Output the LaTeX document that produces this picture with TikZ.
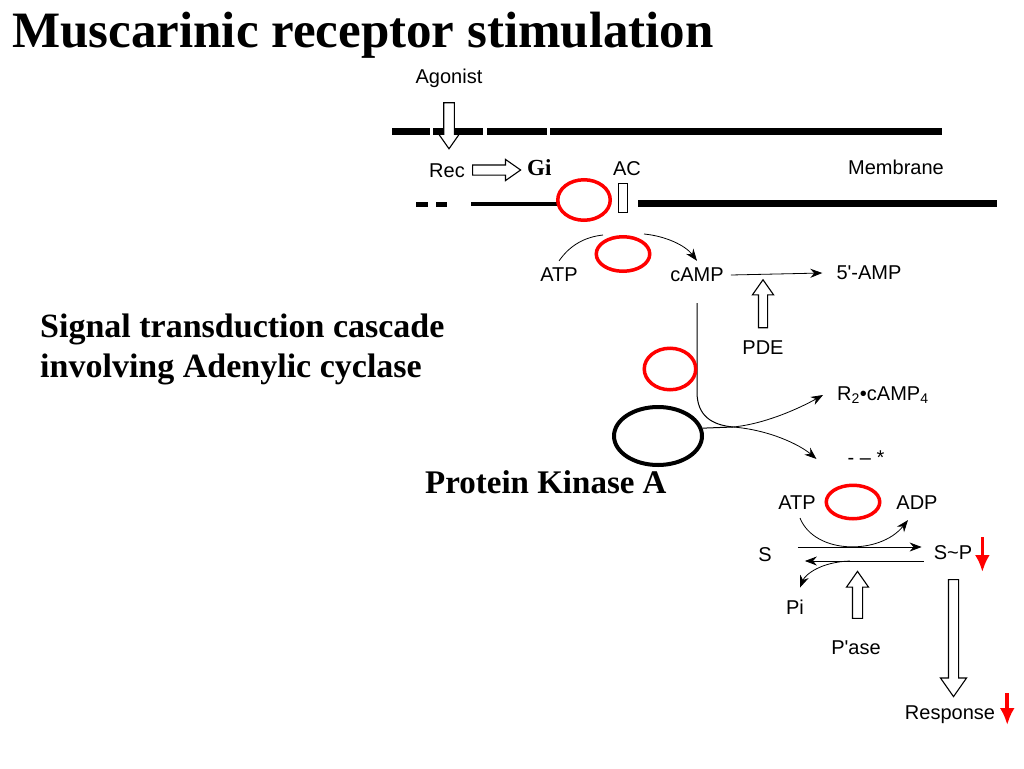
\documentclass[tikz,border=0pt]{standalone}
\usepackage{fontspec}
\setmainfont{Liberation Serif}
\setsansfont{Liberation Sans}
\usetikzlibrary{shapes.geometric}
\usetikzlibrary{shapes.arrows}
\usetikzlibrary{arrows.meta}

\begin{document}
\begin{tikzpicture}[
    x=1pt, y=-1pt,
    >={Stealth[length=12pt,width=9pt]},
    tag/.style={
        font=\sffamily\fontsize{20}{20}\selectfont,
        inner sep=1pt
    },
    heading/.style={
        font=\bfseries\fontsize{34}{40}\selectfont,
        anchor=base west, inner sep=0pt
    },
    hollow/.style={
        single arrow, draw=black, fill=white, line width=1.1pt,
        inner xsep=0pt, single arrow tip angle=70,
        single arrow head indent=0pt
    },
    ring/.style={
        ellipse, draw=red, line width=3.5pt, inner sep=0pt
    },
    fall/.style={
        -{Latex[length=17pt,width=15pt]}, draw=red, line width=3.5pt
    }
]
\useasboundingbox (0,0) rectangle (1024,768);

% titles
\node[heading, font=\bfseries\fontsize{51}{51}\selectfont] (title) at (12,48) {Muscarinic receptor stimulation};
\node[heading] (sig1) at (40,337) {Signal transduction cascade};
\node[heading] (sig2) at (40,377) {involving Adenylic cyclase};
\node[heading, font=\bfseries\fontsize{33}{40}\selectfont] (pkatext) at (425,493) {Protein Kinase A};

% membrane
\draw[line width=7pt, dash pattern=on 38pt off 3pt on 50pt off 4pt on 60pt off 3pt] (392,131) -- (588,131);
\draw[line width=7pt] (588,131) -- (942,131);
\draw[line width=5pt] (416,204) -- (428,204);
\draw[line width=5pt] (436,204) -- (447,204);
\draw[line width=4pt] (471,204) -- (557,204);
\draw[line width=7pt] (638,203) -- (997,203);
\node[draw, line width=1pt, fill=white, minimum width=9pt, minimum height=29pt, inner sep=0pt] (acbar) at (622.5,197.5) {};

\node[tag] (agonist) at (449,78) {Agonist};
\node[tag] (rec) at (447,171) {Rec};
\node[heading, font=\bfseries\fontsize{23}{23}\selectfont] (gi) at (527,175) {Gi};
\node[tag] (ac) at (627,169) {AC};
\node[tag] (membrane) at (896,167) {Membrane};

\node[hollow, rotate=-90, inner ysep=4.75pt, single arrow head extend=4.75pt, minimum height=46pt] (agarrow) at (449,122) {};
\node[hollow, inner ysep=4.5pt, single arrow head extend=5.5pt, minimum height=48pt] (recarrow) at (493,170) {};

% cAMP
\node[tag] (atp) at (559,275) {ATP};
\node[tag] (camp) at (697,275) {cAMP};
\node[tag] (amp) at (869,273) {5\textquotesingle-AMP};
\node[tag] (pde) at (763,348) {PDE};
\node[hollow, rotate=90, inner ysep=4pt, single arrow head extend=6pt, minimum height=48pt] (pdearrow) at (763,307) {};

\coordinate (gapl) at (603,235);
\coordinate (gapr) at (644,234);
\draw[line width=0.8pt] ([yshift=6pt]atp.north) .. controls (570,245) and (585,237) .. (gapl);
\draw[->, line width=0.8pt] (gapr) .. controls (665,236) and (685,245) .. ([yshift=6pt]camp.north);
\draw[->, line width=0.8pt] ([xshift=6pt]camp.east) -- ([xshift=-13pt]amp.west);

% protein kinase
\node[tag, anchor=west] (rcamp) at (836,395) {R\textsubscript{2}\textbullet cAMP\textsubscript{4}};
\node[tag] (cstar) at (866,458) {- -- *};
\node[ellipse, draw, line width=4pt, minimum width=88pt, minimum height=58pt, inner sep=0pt] (pka) at (658,436) {};

\coordinate (split) at (733,427);
\draw[line width=1pt] ([yshift=-20pt]camp.south) -- (697,392) .. controls (697,416) and (712,425) .. (split);
\draw[line width=1pt] (pka.10) -- (split);
\draw[->, line width=0.8pt] (split) .. controls (765,424) and (800,408) .. ([xshift=-13pt]rcamp.west);
\draw[->, line width=0.8pt] (split) .. controls (770,430) and (800,445) .. ([xshift=-30pt,yshift=-1pt]cstar.west);

% phosphorylation
\node[tag] (atp2) at (797,503) {ATP};
\node[tag] (adp) at (917,503) {ADP};
\node[tag] (s) at (765,555) {S};
\node[tag] (sp) at (953,553) {S\textasciitilde P};
\node[tag] (pi) at (795,607) {Pi};
\node[tag] (pase) at (856,648) {P\textquotesingle ase};
\node[tag] (response) at (950,715) {Response};

\draw[->, line width=0.8pt] ([xshift=3pt,yshift=-7pt]atp2.south) .. controls (815,555) and (880,555) .. ([xshift=-9pt,yshift=-9pt]adp.south);
\draw[->, line width=0.8pt] ([xshift=25pt,yshift=8pt]s.east) -- ([xshift=-11pt,yshift=6pt]sp.west);
\draw[->, line width=0.8pt] ([xshift=-9pt,yshift=-8pt]sp.west) -- ([xshift=32pt,yshift=-6pt]s.east);
\coordinate (piout) at (850,561);
\draw[->, line width=0.8pt] (piout) .. controls (820,562) and (805,575) .. ([xshift=5pt,yshift=11pt]pi.north);

\node[hollow, rotate=90, inner ysep=4.5pt, single arrow head extend=6pt, minimum height=47pt] (pasearrow) at (857.5,598.5) {};
\node[hollow, rotate=-90, inner ysep=4.5pt, single arrow head extend=8pt, minimum height=117pt] (resparrow) at (953.5,634.5) {};

% marks
\node[ring, minimum width=52.5pt, minimum height=40.5pt] (ring1) at (584,200) {};
\node[ring, minimum width=53.5pt, minimum height=34.5pt] (ring2) at (623,254) {};
\node[ring, minimum width=51.5pt, minimum height=41.5pt] (ring3) at (670,369) {};
\node[ring, minimum width=53.5pt, minimum height=33.5pt] (ring4) at (853,502) {};

\draw[fall] ([xshift=9pt,yshift=16pt]sp.east) -- ([xshift=9pt,yshift=-19pt]sp.east);
\draw[fall] ([xshift=11pt,yshift=22pt]response.east) -- ([xshift=11pt,yshift=-10pt]response.east);
\end{tikzpicture}
\end{document}
